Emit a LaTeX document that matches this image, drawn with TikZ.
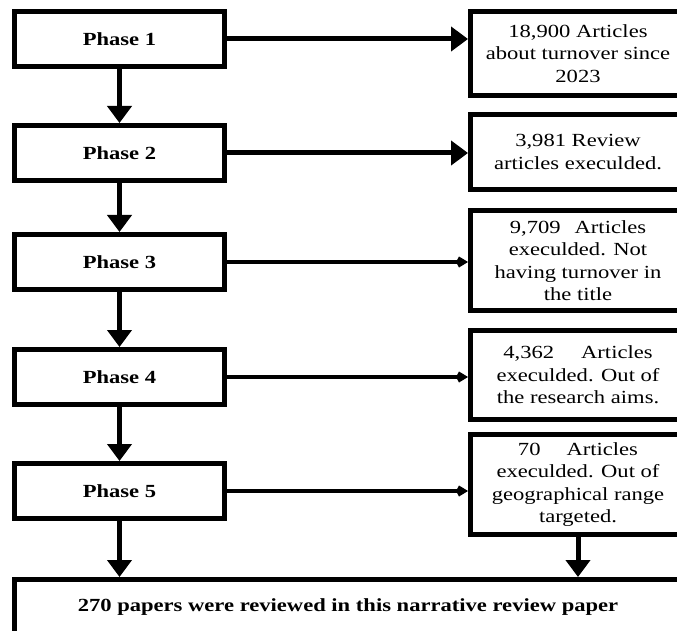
\documentclass[tikz,border=0pt]{standalone}
\usepackage{fontspec}
\setmainfont{Liberation Serif}[FakeStretch=1.22]
\usetikzlibrary{positioning, arrows.meta}
\tikzset{phase/.style={draw, line width=5pt, minimum width=210pt, minimum height=55pt, inner sep=0pt, font=\bfseries\fontsize{18.5}{22.5}\selectfont}}
\tikzset{result/.style={draw, line width=5pt, minimum width=215pt, inner sep=0pt, align=center, font=\fontsize{18.5}{22.5}\selectfont}}
\tikzstyle{flow}=[-{Triangle[length=17pt,width=24pt]}, line width=5pt]
\tikzstyle{thinflow}=[-{Kite[length=12pt,width=11pt]}, line width=4pt]

\begin{document}
\begin{tikzpicture}
  \useasboundingbox (0,0) rectangle (677pt,-631pt);

  \node[phase] (p1) at (119.5pt,-39pt) {Phase 1};
  \node[phase] (p2) [below=54pt of p1] {Phase 2};
  \node[phase] (p3) [below=49pt of p2] {Phase 3};
  \node[phase] (p4) [below=55pt of p3] {Phase 4};
  \node[phase] (p5) [below=54pt of p4] {Phase 5};

  \node[result, minimum height=84pt] (r1) [right=241pt of p1.north east, anchor=north west]
    {18,900 Articles\\about turnover since\\2023};
  \node[result, minimum height=75pt] (r2) [below=14pt of r1]
    {3,981 Review\\articles execulded.};
  \node[result, minimum height=100pt] (r3) [below=16pt of r2]
    {9,709\hspace{14pt}Articles\\execulded. Not\\having turnover in\\the title};
  \node[result, minimum height=89pt] (r4) [below=15pt of r3]
    {4,362\hspace{27pt}Articles\\execulded. Out of\\the research aims.};
  \node[result, minimum height=100pt] (r5) [below=10pt of r4]
    {70\hspace{26pt}Articles\\execulded. Out of\\geographical range\\targeted.};

  \node[phase, minimum width=667pt, minimum height=75pt, anchor=north west] (final)
    [below=56pt of p5.south west, anchor=north west] {};
  \node (finaltext) at ([yshift=-30pt]final.north) [font=\bfseries\fontsize{18.5}{22.5}\selectfont]
    {270 papers were reviewed in this narrative review paper};

  % down the phases
  \draw[flow] (p1) -- (p2);
  \draw[flow] (p2) -- (p3);
  \draw[flow] (p3) -- (p4);
  \draw[flow] (p4) -- (p5);
  \draw[flow] (p5.south) -- (p5.south |- final.north);
  \draw[flow] (r5.south) -- (r5.south |- final.north);

  % out to the counts
  \draw[flow] (p1.east) -- (p1.east -| r1.west);
  \draw[flow] (p2.east) -- (p2.east -| r2.west);
  \draw[thinflow] (p3.east) -- (p3.east -| r3.west);
  \draw[thinflow] (p4.east) -- (p4.east -| r4.west);
  \draw[thinflow] (p5.east) -- (p5.east -| r5.west);

\end{tikzpicture}
\end{document}
